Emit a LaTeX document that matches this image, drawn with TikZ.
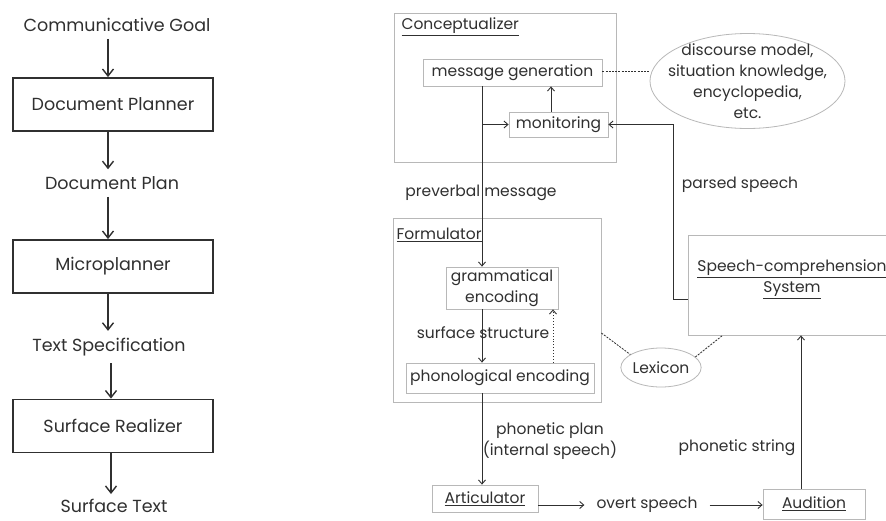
\documentclass[tikz,border=0pt]{standalone}
\usepackage{fontspec}
\setmainfont{Poppins}
\usetikzlibrary{arrows.meta,shapes.geometric}
\definecolor{ink}{HTML}{303030}
\definecolor{frame}{HTML}{B8B8B8}
\begin{document}
\begin{tikzpicture}[x=1pt,y=-1pt,
    every node/.style={font=\fontsize{15.5}{21}\selectfont,text=ink},
    caption/.style={inner ysep=7pt,font=\fontsize{17.5}{21}\selectfont},
    stage/.style={draw=ink,line width=1.8pt,minimum width=200pt,minimum height=53pt,font=\fontsize{17.5}{21}\selectfont},
    flow/.style={draw=ink,line width=1.4pt,-{Straight Barb[length=7pt,width=11pt]}},
    part/.style={draw=frame,line width=0.8pt},
    proc/.style={part,inner sep=0pt},
    link/.style={draw=ink,line width=0.9pt,-{Straight Barb[length=4pt,width=7pt]}},
    assoc/.style={draw=ink,line width=0.8pt,dash pattern=on 2pt off 1.2pt}]
   \fill[white] (0,0) rectangle (886,520);
   \useasboundingbox (0,0) rectangle (886,520);
   % left: generation pipeline
   \node[caption] (goal) at (117,25) {Communicative Goal};
   \node[stage] (planner) at (113,104.5) {Document Planner};
   \node[caption] (plan) at (112,183) {Document Plan};
   \node[stage] (micro) at (113,266.5) {Microplanner};
   \node[caption] (spec) at (109,347) {Text Specification};
   \node[stage] (realizer) at (113,426) {Surface Realizer};
   \node[caption,inner ysep=5pt] (surface) at (114,506) {Surface Text};
   \coordinate (axis) at (108,0);
   \coordinate (axislow) at (111,0);
   \draw[flow] (goal.south -| axis) -- (planner.north -| axis);
   \draw[flow] (planner.south -| axis) -- (plan.north -| axis);
   \draw[flow] (plan.south -| axis) -- (micro.north -| axis);
   \draw[flow] (micro.south -| axis) -- (spec.north -| axis);
   \draw[flow] (spec.south -| axislow) -- (realizer.north -| axislow);
   \draw[flow] (realizer.south -| axislow) -- (surface.north -| axislow);
   % right: speaking model
   \node[part,minimum width=222pt,minimum height=149pt] (concept) at (505,87.5) {};
   \node[anchor=west] (conceptname) at (398,27) {\underline{Conceptualizer}};
   \node[proc,minimum width=179pt,minimum height=27pt] (msggen) at (512.5,72.5) {message generation};
   \node[proc,minimum width=99pt,minimum height=25pt] (monitor) at (558.5,124.5) {monitoring};
   \node[part,ellipse,inner sep=-18pt,minimum width=195pt,minimum height=95pt,align=center] (world) at (747.5,81) {discourse model,\\situation knowledge,\\encyclopedia,\\etc.};
   \node[part,minimum width=208pt,minimum height=184pt] (formul) at (497,310) {};
   \node[anchor=west] (formulname) at (393,235) {\underline{Formulator}};
   \node[proc,minimum width=112pt,minimum height=42pt,align=center] (gramenc) at (502,288) {grammatical\\encoding};
   \node[proc,minimum width=188pt,minimum height=30pt] (phonenc) at (500,378) {phonological encoding};
   \node[proc,minimum width=106pt,minimum height=27pt] (articulator) at (485,498.5) {\underline{Articulator}};
   \node[proc,minimum width=102pt,minimum height=30pt] (audition) at (814,504) {\underline{Audition}};
   \node[part,minimum width=202pt,minimum height=100pt] (speechcomp) at (789,285) {};
   \node[align=center] (speechname) at (792,279) {\underline{Speech-comprehension}\\\underline{System}};
   \node[part,ellipse,inner sep=0pt,minimum width=78pt,minimum height=39pt] (lexicon) at (661,367.5) {Lexicon};
   \coordinate (spine) at (482,0);
   \draw[link] (msggen.south -| spine) -- (gramenc.north -| spine);
   \draw[link] (spine |- monitor.west) -- (monitor.west);
   \draw[link] ([xshift=-7.5pt]monitor.north) -- ([xshift=-7.5pt]monitor.north |- msggen.south);
   \draw[assoc] ([yshift=1.5pt]msggen.east) -- ([yshift=1.5pt]msggen.east -| world.west);
   \draw[link] ([yshift=-14pt]speechcomp.west) -| ([xshift=65pt]monitor.east) -- (monitor.east);
   \node (preverbal) at (481,193) {preverbal message};
   \node (parsed) at (740,185) {parsed speech};
   \draw[link] (gramenc.south -| spine) -- (phonenc.north -| spine);
   \node (surfstruct) at (483,333) {surface structure};
   \draw[link,dotted] ([xshift=53pt]phonenc.north) -- ([xshift=53pt]phonenc.north |- gramenc.south);
   \draw[link] (phonenc.south -| spine) -- (articulator.north -| spine);
   \node[align=center] (phonplan) at (550,441) {phonetic plan\\(internal speech)};
   \node[inner xsep=12pt] (overt) at (647,505) {overt speech};
   \draw[link] (articulator.east |- overt) -- (overt.west);
   \draw[link] (overt.east) -- (audition.west |- overt);
   \draw[link] ([xshift=-13pt]audition.north) -- ([xshift=-13pt]audition.north |- speechcomp.south);
   \node (phonstring) at (737,448) {phonetic string};
   \draw[assoc] ([yshift=-23pt]formul.east) -- (lexicon.157);
   \draw[assoc] (lexicon.17) -- ([xshift=35pt]speechcomp.south west);
\end{tikzpicture}
\end{document}
